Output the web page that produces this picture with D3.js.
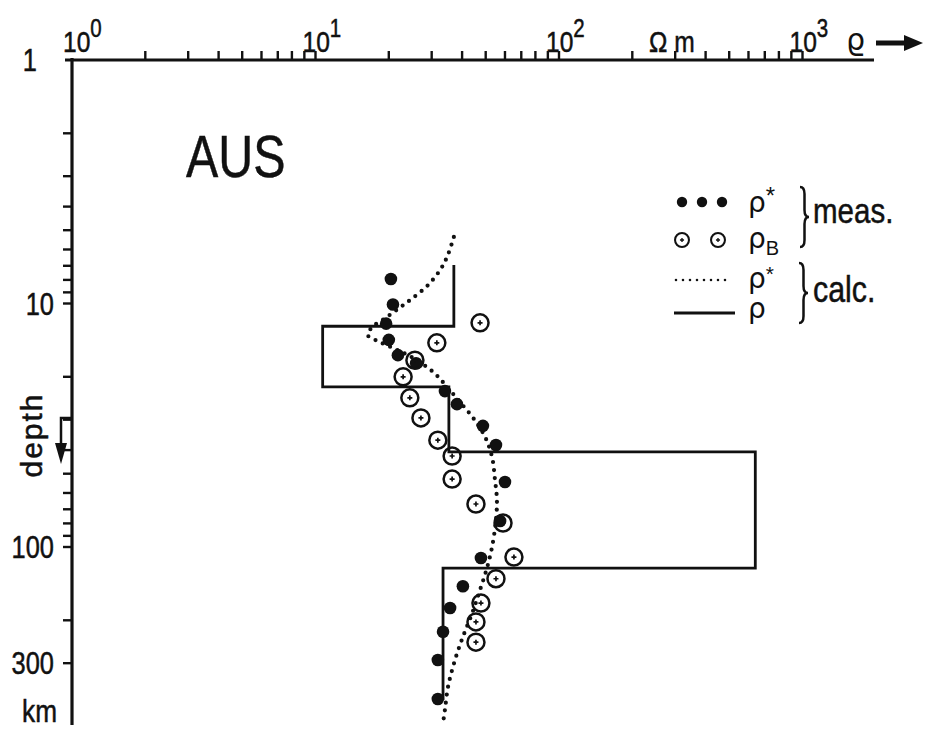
<!DOCTYPE html>
<html>
<head>
<meta charset="utf-8">
<script src="https://cdn.jsdelivr.net/npm/d3@7"></script>
<style>
  body { margin: 0; background: #fff; }
  svg { display: block; }
  text { font-family: "Liberation Sans", Arial, sans-serif; fill: #111; }
  .greek { font-family: "DejaVu Sans", sans-serif; }
</style>
</head>
<body>
<svg id="chart" width="929" height="743"></svg>
<script>
// measured apparent resistivity rho* : [rho (Ohm m), depth (km)]
const measRhoStar = [
  [20.4, 7.93], [20.8, 10.1], [19.5, 12.1], [20.0, 14.1], [21.8, 16.3], [25.9, 17.6],
  [34.0, 22.9], [38.1, 25.9], [48.7, 31.8], [55.1, 38.1], [60.0, 54.1], [57.3, 78.2],
  [47.8, 111], [40.3, 145], [35.7, 178], [33.4, 223], [31.8, 291], [31.8, 421]
];

// measured Bostick resistivity rho_B
const measRhoB = [
  [47.4, 12.0], [31.5, 14.5], [25.6, 17.1], [22.9, 20.0], [24.4, 24.4], [27.1, 29.5],
  [31.8, 36.4], [36.4, 42.3], [36.4, 52.6], [45.6, 66.6], [58.9, 79.7], [65.3, 110],
  [55.1, 135], [47.8, 170], [45.6, 203], [45.6, 246]
];

// calculated rho* of the model
const calcRhoStar = [
  [37.0, 5.33], [34.7, 6.44], [32.5, 7.28], [29.0, 8.40], [25.1, 9.49], [22.2, 10.4],
  [19.3, 11.5], [17.1, 12.5], [16.4, 13.5], [18.4, 14.4], [21.6, 15.5], [25.1, 16.7],
  [30.4, 19.1], [34.7, 22.0], [39.2, 25.4], [44.4, 29.5], [49.7, 35.3], [53.1, 42.7],
  [54.6, 53.1], [55.6, 64.1], [55.1, 77.5], [53.1, 100], [50.6, 122], [47.4, 150],
  [44.0, 187], [40.3, 234], [37.4, 291], [35.0, 376], [34.0, 467], [33.4, 528]
];

// layered model rho: layer resistivities and layer boundaries (km)
const layerRho = [37.0, 10.7, 35.3, 640, 33.4];
const layerBounds = [6.95, 12.4, 22.0, 40.7, 122, 425];

const xLabelExponents = [0, 1, 2, 3];
const yTickLabels = [1, 10, 100, 300];

const svg = d3.select('#chart');
const x = d3.scaleLog().domain([1, 1000]).range([72, 802.5]);
const y = d3.scaleLog().domain([1, 1000]).range([60, 790.5]);
const yMax = 538;
const narrow = 0.82;

// text squeezed horizontally, like the narrow lettering of the original
const addText = (parent, tx, ty, str, size, anchor) => {
  return parent.append('text')
    .attr('transform', 'translate(' + tx + ',' + ty + ') scale(' + narrow + ',1)')
    .attr('text-anchor', anchor || 'start')
    .style('font-size', size + 'px')
    .style('stroke', '#111')
    .style('stroke-width', 0.5)
    .text(str);
};

const drawAxes = () => {
  svg.append('g').selectAll('line')
    .data(x.ticks().filter((d) => d > 1))
    .enter().append('line')
    .attr('x1', (d) => x(d)).attr('x2', (d) => x(d))
    .attr('y1', 51).attr('y2', 60)
    .attr('stroke', '#111').attr('stroke-width', 2.4);

  svg.append('line')
    .attr('x1', 65).attr('x2', 874).attr('y1', 60).attr('y2', 60)
    .attr('stroke', '#111').attr('stroke-width', 3.2);

  svg.append('g').selectAll('line')
    .data(y.ticks().filter((d) => d <= 300 && d > 1))
    .enter().append('line')
    .attr('x1', 63).attr('x2', 72)
    .attr('y1', (d) => y(d)).attr('y2', (d) => y(d))
    .attr('stroke', '#111').attr('stroke-width', 2.4);

  svg.append('line')
    .attr('x1', 72).attr('x2', 72).attr('y1', 58).attr('y2', y(yMax))
    .attr('stroke', '#111').attr('stroke-width', 3.2);

  // top tick labels 10^n
  xLabelExponents.forEach((e) => {
    const t = addText(svg, x(Math.pow(10, e)) - (e === 0 ? 9 : 13), 52, '', 30);
    t.append('tspan').text('10');
    t.append('tspan').attr('dy', -15).style('font-size', '25px').text(e);
  });

  // left tick labels
  yTickLabels.forEach((d) => {
    addText(svg, d === 1 ? 37 : 54, y(d) + 11, d, 31, 'end');
  });

  addText(svg, 57, 722, 'km', 32, 'end');
  addText(svg, 649, 52, 'Ω m', 30);

  svg.append('text').attr('class', 'greek').attr('x', 846).attr('y', 50)
    .style('font-size', '30px').text('ϱ');

  svg.append('line').attr('x1', 876).attr('x2', 908).attr('y1', 43).attr('y2', 43)
    .attr('stroke', '#111').attr('stroke-width', 5);
  svg.append('path').attr('d', 'M904,35 L923,43 L904,51 Z').attr('fill', '#111');

  // depth label and arrow
  svg.append('text')
    .attr('transform', 'translate(42,435) rotate(-90)')
    .attr('text-anchor', 'middle')
    .style('font-size', '30px')
    .style('letter-spacing', '2px')
    .style('stroke', '#111')
    .style('stroke-width', 0.5)
    .text('depth');
  svg.append('path').attr('d', 'M72,418 H61 V446').attr('fill', 'none')
    .attr('stroke', '#111').attr('stroke-width', 2.5);
  svg.append('path').attr('d', 'M55,443 L67,443 L61,464 Z').attr('fill', '#111');

  addText(svg, 186, 177, 'AUS', 59);
};

const drawModel = () => {
  const pts = [];
  layerRho.forEach((r, i) => {
    pts.push([r, layerBounds[i]]);
    pts.push([r, layerBounds[i + 1]]);
  });
  svg.append('path')
    .datum(pts)
    .attr('d', d3.line().x((d) => x(d[0])).y((d) => y(d[1])))
    .attr('fill', 'none')
    .attr('stroke', '#111')
    .attr('stroke-width', 2.8);

  svg.append('path')
    .datum(calcRhoStar)
    .attr('d', d3.line().x((d) => x(d[0])).y((d) => y(d[1])).curve(d3.curveCatmullRom))
    .attr('fill', 'none')
    .attr('stroke', '#111')
    .attr('stroke-width', 4.2)
    .attr('stroke-linecap', 'round')
    .attr('stroke-dasharray', '0 8');
};

const openCircle = (g) => {
  g.append('circle').attr('r', 8.5).attr('fill', 'none')
    .attr('stroke', '#111').attr('stroke-width', 2.5);
  g.append('path').attr('d', 'M-2.5,0 H2.5 M0,-2.5 V2.5')
    .attr('stroke', '#111').attr('stroke-width', 1.7);
};

const drawPoints = () => {
  svg.append('g').selectAll('circle')
    .data(measRhoStar)
    .enter().append('circle')
    .attr('cx', (d) => x(d[0]))
    .attr('cy', (d) => y(d[1]))
    .attr('r', 6.3)
    .attr('fill', '#111');

  svg.append('g').selectAll('g')
    .data(measRhoB)
    .enter().append('g')
    .attr('transform', (d) => 'translate(' + x(d[0]) + ',' + y(d[1]) + ')')
    .call(openCircle);
};

const brace = (x0, t, b, w) => {
  const m = (t + b) / 2;
  const h = x0 + w / 2;
  const q = 7;
  return 'M' + x0 + ',' + t + ' Q' + h + ',' + t + ' ' + h + ',' + (t + q)
    + ' L' + h + ',' + (m - q) + ' Q' + h + ',' + m + ' ' + (x0 + w) + ',' + m
    + ' Q' + h + ',' + m + ' ' + h + ',' + (m + q)
    + ' L' + h + ',' + (b - q) + ' Q' + h + ',' + b + ' ' + x0 + ',' + b;
};

const drawLegend = () => {
  const lg = svg.append('g');
  lg.selectAll('circle.dot')
    .data([682, 702, 722])
    .enter().append('circle')
    .attr('class', 'dot')
    .attr('cx', (d) => d).attr('cy', 202).attr('r', 5.2).attr('fill', '#111');

  lg.selectAll('g.oc')
    .data([682, 718])
    .enter().append('g')
    .attr('class', 'oc')
    .attr('transform', (d) => 'translate(' + d + ',240) scale(0.82)')
    .call(openCircle);

  lg.append('line').attr('x1', 676).attr('x2', 732).attr('y1', 280).attr('y2', 280)
    .attr('stroke', '#111').attr('stroke-width', 2.6).attr('stroke-linecap', 'round')
    .attr('stroke-dasharray', '0 7');
  lg.append('line').attr('x1', 674).attr('x2', 735).attr('y1', 313).attr('y2', 313)
    .attr('stroke', '#111').attr('stroke-width', 3);

  const rho = (yy, sub, subY, subSize) => {
    const t = lg.append('text').attr('class', 'greek').attr('x', 748).attr('y', yy)
      .style('font-size', '28px');
    t.append('tspan').text('ρ');
    if (sub) {
      t.append('tspan').attr('dy', subY).style('font-size', subSize)
        .style('font-family', '"Liberation Sans", sans-serif').text(sub);
    }
  };
  rho(212, '*', -8, '24px');
  rho(248, 'B', 7, '20px');
  rho(288, '*', -7, '21px');
  rho(318);

  lg.append('path').attr('d', brace(800, 187, 247, 9)).attr('fill', 'none')
    .attr('stroke', '#111').attr('stroke-width', 2.5);
  lg.append('path').attr('d', brace(799, 263, 323, 9)).attr('fill', 'none')
    .attr('stroke', '#111').attr('stroke-width', 2.5);

  addText(lg, 813, 223, 'meas.', 36);
  addText(lg, 813, 302, 'calc.', 37);
};

drawAxes();
drawModel();
drawPoints();
drawLegend();
</script>
</body>
</html>
